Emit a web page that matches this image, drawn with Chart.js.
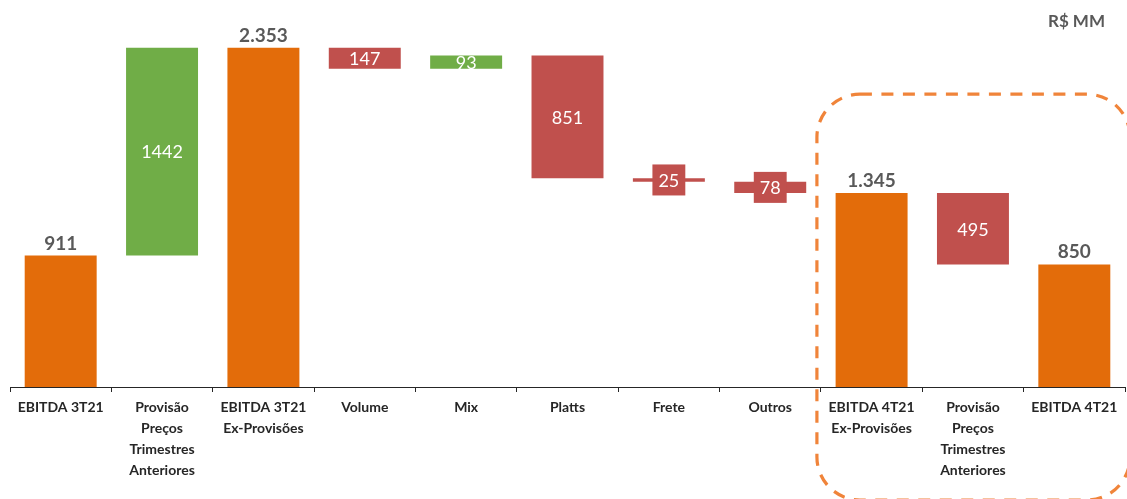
<!DOCTYPE html>
<html>
<head>
<meta charset="utf-8">
<script src="https://cdn.jsdelivr.net/npm/chart.js@4"></script>
<style>
  html, body { margin: 0; padding: 0; background: #fff; }
  #wrap { width: 1127px; height: 499px; position: relative; }
</style>
</head>
<body>
<div id="wrap"><canvas id="c"></canvas></div>
<script>
// ---- data ----
const categories = [
  'EBITDA 3T21',
  'Provisão\nPreços\nTrimestres\nAnteriores',
  'EBITDA 3T21\nEx-Provisões',
  'Volume',
  'Mix',
  'Platts',
  'Frete',
  'Outros',
  'EBITDA 4T21\nEx-Provisões',
  'Provisão\nPreços\nTrimestres\nAnteriores',
  'EBITDA 4T21'
];
const values = [911, 1442, 2353, -147, 93, -851, -25, -78, 1345, -495, 850];
const kinds = ['total', 'delta', 'total', 'delta', 'delta', 'delta', 'delta', 'delta', 'total', 'delta', 'total'];
const unitLabel = 'R$ MM';
const yMax = 2600;

// ---- build floating bars ----
const COLORS = { total: '#E36C0A', up: '#70AD47', down: '#C0504D' };
let run = 0;
const ranges = [];
const colors = [];
values.forEach((v, i) => {
  if (kinds[i] === 'total') {
    ranges.push([0, v]);
    run = v;
    colors.push(COLORS.total);
  } else {
    ranges.push([run, run + v]);
    run += v;
    colors.push(v >= 0 ? COLORS.up : COLORS.down);
  }
});

function fmtThousands(n) {
  return String(Math.abs(n)).replace(/\B(?=(\d{3})+(?!\d))/g, '.');
}

const labelPlugin = {
  id: 'wfLabels',
  afterDatasetsDraw(chart) {
    const ctx = chart.ctx;
    const meta = chart.getDatasetMeta(0);
    ctx.save();
    meta.data.forEach((el, i) => {
      const top = Math.min(el.y, el.base);
      const bot = Math.max(el.y, el.base);
      const h = bot - top;
      ctx.textAlign = 'center';
      if (kinds[i] === 'total') {
        ctx.font = 'bold 19px Lato';
        ctx.fillStyle = '#595959';
        ctx.textBaseline = 'alphabetic';
        ctx.fillText(fmtThousands(values[i]), el.x, top - 6);
      } else {
        const txt = String(Math.abs(values[i]));
        ctx.font = '18px Lato';
        const cy = (top + bot) / 2;
        if (h < 12) {
          const w = ctx.measureText(txt).width + 12;
          ctx.fillStyle = colors[i];
          ctx.fillRect(el.x - w / 2, cy - 15.5, w, 31);
        }
        ctx.fillStyle = '#FFFFFF';
        ctx.textBaseline = 'middle';
        ctx.fillText(txt, el.x, cy + 1);
      }
    });
    ctx.restore();
  },
  afterDraw(chart) {
    const ctx = chart.ctx;
    const xs = chart.scales.x, ys = chart.scales.y;
    ctx.save();
    // unit label
    ctx.font = 'bold 17px Lato';
    ctx.fillStyle = '#595959';
    ctx.textAlign = 'right';
    ctx.textBaseline = 'alphabetic';
    ctx.fillText(unitLabel, chart.width - 22, 27);
    // dashed highlight box around the last three categories
    const l = xs.getPixelForValue(7.5) - 4;
    const t = ys.getPixelForValue(2030);
    const r = chart.width + 3;
    const b = chart.height + 1;
    const rad = 43;
    ctx.strokeStyle = '#F0843A';
    ctx.lineWidth = 3.2;
    ctx.setLineDash([12, 9.5]);
    ctx.beginPath();
    ctx.moveTo(l + rad, t);
    ctx.lineTo(r - rad, t);
    ctx.arcTo(r, t, r, t + rad, rad);
    ctx.lineTo(r, b - rad);
    ctx.arcTo(r, b, r - rad, b, rad);
    ctx.lineTo(l + rad, b);
    ctx.arcTo(l, b, l, b - rad, rad);
    ctx.lineTo(l, t + rad);
    ctx.arcTo(l, t, l + rad, t, rad);
    ctx.closePath();
    ctx.stroke();
    ctx.restore();
  }
};

new Chart(document.getElementById('c'), {
  type: 'bar',
  data: {
    labels: categories.map(s => s.split('\n')),
    datasets: [{
      data: ranges,
      backgroundColor: colors,
      borderWidth: 0,
      categoryPercentage: 1,
      barPercentage: 0.71
    }]
  },
  options: {
    responsive: true,
    maintainAspectRatio: false,
    animation: false,
    layout: { padding: { top: 12, left: 10, right: 2, bottom: 0 } },
    plugins: { legend: { display: false }, tooltip: { enabled: false } },
    scales: {
      x: {
        offset: true,
        grid: {
          display: true,
          offset: true,
          drawOnChartArea: false,
          drawTicks: true,
          tickLength: 5,
          color: '#262626',
          lineWidth: 1
        },
        border: { display: true, color: '#262626', width: 1 },
        ticks: {
          autoSkip: false,
          maxRotation: 0,
          minRotation: 0,
          padding: 5,
          color: '#262626',
          font: { family: 'Lato', weight: 'bold', size: 14, lineHeight: 1.5 }
        },
        afterFit(scale) { scale.height = 112; }
      },
      y: {
        display: false,
        min: 0,
        max: yMax
      }
    }
  },
  plugins: [labelPlugin]
});
</script>
</body>
</html>
